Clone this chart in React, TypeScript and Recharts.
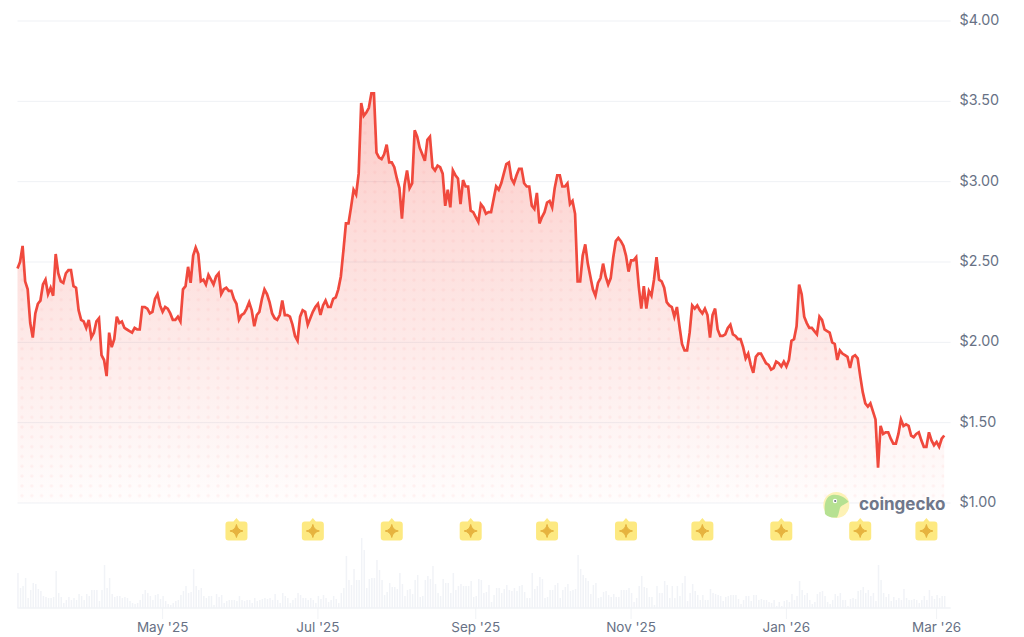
import { Area, Bar, CartesianGrid, ComposedChart, Line, ReferenceDot, XAxis, YAxis } from "recharts";

// daily close, Mar 5 2025 onwards
const pricesSpring = [
  2.46, 2.5, 2.6, 2.38, 2.33, 2.12, 2.03, 2.18, 2.24, 2.26,
  2.36, 2.39, 2.3, 2.34, 2.29, 2.55, 2.43, 2.38, 2.37, 2.43,
  2.45, 2.45, 2.35, 2.34, 2.2, 2.14, 2.13, 2.09, 2.14, 2.03,
  2.06, 2.13, 2.15, 1.92, 1.89, 1.79, 2.06, 1.97, 2.02, 2.16,
  2.12, 2.13, 2.09, 2.08, 2.07, 2.06, 2.09, 2.08, 2.08, 2.22,
  2.22, 2.21, 2.18, 2.19, 2.27, 2.3, 2.23, 2.19, 2.22, 2.21,
  2.18, 2.14, 2.14, 2.16, 2.13, 2.33, 2.35, 2.47, 2.37, 2.54,
  2.59, 2.55, 2.38, 2.39, 2.36, 2.42, 2.39, 2.36, 2.41, 2.43,
  2.3, 2.33, 2.34, 2.32, 2.32, 2.27, 2.24, 2.14, 2.17, 2.18,
  2.21, 2.25, 2.2, 2.1, 2.17, 2.19, 2.27, 2.33, 2.3, 2.25,
  2.18, 2.15, 2.14, 2.17, 2.26, 2.17, 2.17, 2.16, 2.11, 2.04,
  2.01, 2.16, 2.2, 2.19, 2.11, 2.15, 2.19, 2.22, 2.24, 2.17,
  2.23, 2.26, 2.22, 2.22,
];
const pricesSummer = [
  2.27, 2.28, 2.33, 2.41, 2.57, 2.74, 2.74, 2.84, 2.95, 2.92,
  3.05, 3.49, 3.41, 3.43, 3.46, 3.55, 3.55, 3.18, 3.15, 3.14,
  3.17, 3.23, 3.12, 3.12, 3.09, 3.02, 2.96, 2.77, 2.98, 3.07,
  2.96, 2.99, 3.32, 3.28, 3.21, 3.17, 3.13, 3.26, 3.28, 3.09,
  3.07, 3.1, 3.09, 3.05, 2.85, 2.95, 2.84, 3.07, 3.04, 3.02,
  2.86, 3.01, 2.97, 2.97, 2.82, 2.81, 2.78, 2.75, 2.86, 2.84,
  2.8, 2.81, 2.81, 2.89, 2.97, 2.95, 2.99, 3.05, 3.11, 3.12,
  3.02, 2.99, 3.04, 3.08, 3.08, 2.99, 2.97, 2.97, 2.85, 2.83,
  2.93, 2.74, 2.78, 2.81, 2.87, 2.88, 2.84, 2.96, 3.04, 3.04,
  2.97, 2.97, 2.99, 2.86, 2.88, 2.8, 2.38, 2.38, 2.54, 2.61,
  2.49, 2.41, 2.33, 2.29, 2.37, 2.4, 2.49, 2.41, 2.36, 2.4,
  2.53, 2.63, 2.65, 2.63, 2.6, 2.54, 2.44,
];
const pricesWinter = [
  2.51, 2.51, 2.53, 2.35, 2.21, 2.35, 2.21, 2.32, 2.29, 2.39,
  2.53, 2.39, 2.38, 2.34, 2.25, 2.23, 2.22, 2.16, 2.22, 2.1,
  1.99, 1.95, 1.95, 2.06, 2.23, 2.21, 2.23, 2.2, 2.18, 2.21,
  2.17, 2.03, 2.17, 2.21, 2.08, 2.04, 2.04, 2.05, 2.09, 2.11,
  2.05, 2.04, 2.02, 2.02, 1.97, 1.9, 1.93, 1.86, 1.81, 1.91,
  1.93, 1.93, 1.9, 1.87, 1.86, 1.83, 1.84, 1.88, 1.87, 1.85,
  1.88, 1.85, 1.89, 2.01, 2.02, 2.1, 2.36, 2.3, 2.16, 2.12,
  2.09, 2.09, 2.07, 2.05, 2.16, 2.14, 2.08, 2.07, 2.06, 2.0,
  1.99, 1.89, 1.95, 1.93, 1.92, 1.91, 1.84, 1.91, 1.92, 1.9,
  1.79, 1.69, 1.62, 1.6, 1.62, 1.57, 1.52, 1.22, 1.48, 1.43,
  1.44, 1.44, 1.4, 1.37, 1.37, 1.43, 1.52, 1.48, 1.49, 1.48,
  1.42, 1.41, 1.43, 1.44, 1.39, 1.35, 1.35, 1.44, 1.39, 1.36,
  1.38, 1.35, 1.4, 1.42,
];
const volumesSpring = [
  35, 20, 22, 30, 10, 18, 25, 24, 19, 17,
  12, 11, 10, 10, 11, 37, 15, 11, 5, 8,
  11, 8, 10, 8, 14, 12, 8, 14, 12, 18,
  18, 18, 7, 18, 43, 20, 30, 14, 11, 12,
  12, 10, 11, 10, 7, 5, 4, 5, 8, 14,
  18, 15, 12, 8, 13, 14, 9, 12, 7, 4,
  3, 5, 7, 8, 13, 17, 22, 15, 16, 39,
  22, 18, 20, 12, 10, 12, 12, 3, 14, 11,
  13, 5, 7, 8, 8, 8, 7, 12, 8, 7,
  8, 8, 5, 10, 7, 8, 9, 10, 9, 10,
  8, 14, 8, 5, 15, 12, 10, 5, 8, 10,
  15, 13, 10, 10, 8, 10, 8, 5, 12, 9,
  13, 10, 6, 8, 12, 9, 5,
];
const volumesSummer = [
  15, 20, 52, 28, 23, 39, 28, 28, 70, 58,
  20, 29, 30, 30, 48, 38, 28, 13, 16, 25,
  21, 21, 19, 35, 24, 12, 18, 19, 14, 28,
  33, 11, 12, 28, 32, 29, 42, 24, 15, 12,
  29, 25, 25, 15, 35, 18, 22, 24, 22, 22,
  22, 27, 11, 12, 29, 28, 15, 16, 23, 6,
  13, 20, 20, 15, 19, 23, 18, 17, 20, 17,
  22, 23, 16, 10, 10, 35, 19, 22, 31, 29,
  10, 11, 18, 18, 23, 25, 10, 18, 21, 24,
  17, 18, 19, 53, 39, 33, 30, 27, 14, 23,
  25, 10, 11, 16, 17, 13, 11, 14, 11, 11,
  18, 18, 18, 20, 15, 6, 10, 22, 32, 21,
  20, 11, 11, 3, 22, 15, 15, 27, 23, 10,
  22, 10, 22, 12,
];
const volumesWinter = [
  25, 32, 7, 15, 24, 17, 13, 8, 13, 8,
  8, 19, 15, 14, 13, 12, 7, 11, 12, 13,
  13, 13, 9, 4, 8, 12, 12, 7, 13, 13,
  8, 9, 8, 8, 6, 5, 8, 2, 6, 2,
  7, 8, 6, 14, 8, 12, 27, 18, 13, 15,
  8, 4, 6, 14, 16, 17, 12, 6, 4, 8,
  14, 12, 15, 8, 8, 2, 9, 10, 9, 17,
  18, 21, 15, 18, 12, 15, 7, 43, 28, 15,
  11, 14, 7, 11, 8, 10, 8, 19, 10, 8,
  8, 9, 8, 5, 8, 12, 8, 18, 12, 9,
  13, 10, 12, 12,
];

const priceTicks = [1, 1.5, 2, 2.5, 3, 3.5, 4];
const dateTicks = [57, 118, 180, 241, 302, 361];
const dateLabels = ["May '25", "Jul '25", "Sep '25", "Nov '25", "Jan '26", "Mar '26"];
const eventDays = [86, 116, 147, 178, 208, 239, 269, 300, 331, 357];

const prices = [...pricesSpring, ...pricesSummer, ...pricesWinter];
const volumes = [...volumesSpring, ...volumesSummer, ...volumesWinter];
const data = prices.map((price, day) => ({ day, price, volume: volumes[day] }));

const FONT = "Inter, sans-serif";
const TEXT = "#677185";

const EventBadge = ({ cx, cy }: any) => (
  <g transform={`translate(${cx},${cy})`}>
    <path
      d="M-8 -9.5 L-3 -9.5 L0 -13 L3 -9.5 L8 -9.5 Q11 -9.5 11 -6.5 L11 6.5 Q11 9.5 8 9.5 L-8 9.5 Q-11 9.5 -11 6.5 L-11 -6.5 Q-11 -9.5 -8 -9.5 Z"
      fill="#fde981"
    />
    <path d="M0 -6.5 Q1 -1 6.5 0 Q1 1 0 6.5 Q-1 1 -6.5 0 Q-1 -1 0 -6.5 Z" fill="#e6b33f" stroke="#e6b33f" strokeWidth={1} />
  </g>
);

const GeckoLogo = () => (
  <svg width={1024} height={637} style={{ position: "absolute", left: 0, top: 0, pointerEvents: "none" }}>
    <circle cx={836.3} cy={505} r={13} fill="#fdf2b6" />
    <path d="M825 514 C824 505 825 497 832 495 C838 493.5 845 497 848.5 501.5 C845 505 841 505 840 508 C839 511 839 514 837 517.5 C832 518 828 517 825 514 Z" fill="#b6e192" />
    <circle cx={835} cy={501} r={2.2} fill="#fff" />
    <circle cx={835.2} cy={501} r={1.1} fill="#6b7385" />
    <text x={859} y={509.5} fontFamily={FONT} fontWeight={700} fontSize={17} fill="#6f778a">coingecko</text>
  </svg>
);

const App = () => {
  return (
    <div style={{ position: "absolute", left: 0, top: 0, width: 1024, height: 637, background: "#fff" }}>
      <ComposedChart width={1024} height={637} data={data}
        margin={{ top: 21, right: 0, left: 17.5, bottom: 0 }}>
        <defs>
          <linearGradient id="priceFill" x1="0" y1="0" x2="0" y2="1">
            <stop offset="0%" stopColor="#f4483c" stopOpacity={0.28} />
            <stop offset="100%" stopColor="#f4483c" stopOpacity={0.01} />
          </linearGradient>
          <pattern id="dots" x="17.1" y="441.8" width="9.8" height="9.8" patternUnits="userSpaceOnUse">
            <circle cx="4.9" cy="4.9" r="1.7" fill="#f4483c" fillOpacity={0.06} />
          </pattern>
        </defs>
        <CartesianGrid yAxisId="price" vertical={false} stroke="#eff1f5" />
        <XAxis dataKey="day" type="number" domain={[0, 366.5]} ticks={dateTicks}
          tickFormatter={(d: number) => dateLabels[dateTicks.indexOf(d)]}
          height={29} interval={0} stroke="#f1f3f6" tickSize={11} tickMargin={3}
          tick={{ fill: TEXT, fontSize: 13.5, fontFamily: FONT }} />
        <YAxis yAxisId="price" orientation="right" width={73.4} domain={[0.3466, 4]} ticks={priceTicks}
          allowDataOverflow axisLine={false} tickLine={false} tickMargin={3}
          tickFormatter={(v: number) => `$${v.toFixed(2)}`}
          tick={{ fill: TEXT, fontSize: 14.3, fontFamily: FONT, dy: -1 }} />
        <YAxis yAxisId="volume" hide domain={[0, 587]} />
        <Bar yAxisId="volume" dataKey="volume" barSize={1.5} fill="#f1f3f7" isAnimationActive={false} />
        <Area yAxisId="price" dataKey="price" type="linear" baseValue={1} stroke="none" fill="url(#priceFill)" fillOpacity={1} isAnimationActive={false} />
        <Area yAxisId="price" dataKey="price" type="linear" baseValue={1} stroke="none" fill="url(#dots)" fillOpacity={1} isAnimationActive={false} />
        <Line yAxisId="price" dataKey="price" type="linear" stroke="#f0493d" strokeWidth={2.7} dot={false} activeDot={false} isAnimationActive={false} />
        {eventDays.map((d) => (
          <ReferenceDot key={d} yAxisId="price" x={d} y={0.826} shape={EventBadge} />
        ))}
      </ComposedChart>
      <GeckoLogo />
    </div>
  );
};

export default App;
